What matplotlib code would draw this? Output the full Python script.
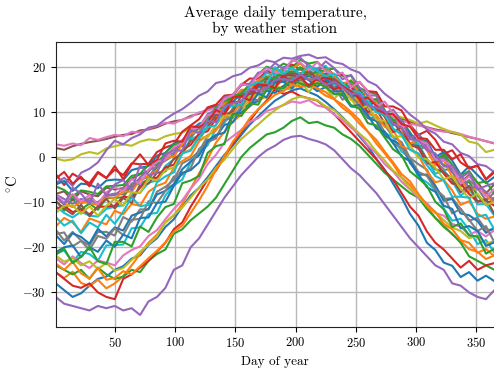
import matplotlib.pyplot as plt

plt.rcParams.update({
    'font.family': 'serif',
    'font.serif': ['cmr10'],
    'mathtext.fontset': 'cm',
    'axes.formatter.use_mathtext': True,
    'axes.unicode_minus': True,
})

days = [1, 8, 15, 22, 29, 36, 43, 50, 57, 64, 71, 78, 85, 92, 99, 106, 113,
        120, 127, 134, 141, 148, 155, 162, 169, 176, 183, 190, 197, 204, 211,
        218, 225, 232, 239, 246, 253, 260, 267, 274, 281, 288, 295, 302, 309,
        316, 323, 330, 337, 344, 351, 358, 365]

# Average daily temperature (deg C) per station, in plotting order
st00 = [-28.0, -29.5, -31.0, -30.2, -28.5, -27.0, -26.5, -25.0, -24.2, -22.5, -21.8, -19.5, -18.0, -15.5, -13.8, -11.0, -8.5, -6.8, -4.5, -2.0, 0.5, 2.6, 4.9, 7.2, 9.0, 10.8, 12.5, 13.6, 14.8, 15.2, 14.4, 13.6, 12.2, 10.6, 8.8, 6.9, 4.6, 2.4, -0.4, -2.8, -5.9, -9.0, -12.6, -15.2, -19.0, -20.6, -23.4, -24.1, -26.6, -25.5, -27.4, -26.3, -27.5]
st01 = [-25.6, -26.8, -25.4, -27.9, -28.6, -27.2, -29.1, -28.0, -26.4, -24.0, -21.5, -19.0, -17.2, -14.5, -13.0, -10.4, -7.0, -3.6, -0.5, 3.2, 5.6, 7.8, 9.4, 11.2, 12.6, 13.4, 15.0, 15.6, 16.4, 16.2, 15.8, 14.9, 13.6, 12.8, 10.9, 9.5, 7.4, 5.6, 3.0, 0.8, -1.6, -4.5, -6.2, -9.0, -10.8, -13.5, -15.0, -17.2, -18.6, -20.4, -21.0, -22.6, -21.8]
st02 = [-24.0, -25.0, -26.0, -25.0, -27.0, -24.5, -26.0, -27.0, -26.5, -25.0, -25.5, -23.0, -21.5, -20.5, -17.0, -16.0, -14.0, -12.5, -11.0, -9.0, -6.0, -3.0, 0.0, 2.0, 3.5, 5.0, 5.5, 6.5, 8.0, 8.8, 7.5, 7.8, 7.0, 6.5, 5.0, 4.0, 2.5, 0.5, -1.5, -3.5, -5.0, -6.5, -8.0, -9.0, -11.5, -13.5, -15.5, -17.0, -19.0, -22.0, -23.0, -24.0, -25.0]
st03 = [-25.5, -27.0, -28.5, -29.0, -28.0, -30.0, -31.0, -31.5, -27.0, -26.0, -24.5, -23.0, -21.0, -19.0, -16.0, -14.5, -11.0, -8.0, -5.0, -3.0, 0.0, 3.0, 5.5, 8.0, 10.5, 12.5, 15.0, 14.0, 14.5, 13.5, 13.0, 12.5, 11.0, 9.5, 7.5, 5.5, 3.5, 1.5, -0.5, -3.0, -5.0, -8.0, -11.0, -13.0, -16.5, -19.0, -20.5, -22.5, -24.5, -23.0, -25.0, -24.0, -23.5]
st04 = [-31.0, -32.5, -33.0, -33.5, -34.0, -33.0, -33.5, -33.0, -34.0, -33.5, -35.0, -32.0, -31.0, -29.0, -25.0, -24.0, -20.0, -18.0, -15.0, -12.0, -9.0, -6.5, -4.0, -2.0, 0.0, 1.5, 2.5, 3.8, 4.5, 4.7, 4.0, 3.5, 2.8, 1.5, -0.5, -2.5, -4.0, -6.0, -8.0, -10.5, -13.0, -15.5, -18.0, -20.0, -22.0, -24.0, -25.0, -28.0, -28.5, -30.0, -31.0, -31.5, -29.5]
st05 = [2.0, 1.6, 2.4, 2.9, 3.3, 3.6, 4.0, 4.5, 4.9, 5.1, 5.9, 6.1, 6.6, 7.4, 7.9, 8.2, 9.1, 9.6, 10.6, 11.3, 12.0, 13.1, 13.6, 14.6, 15.4, 16.2, 17.0, 17.6, 18.2, 18.6, 18.9, 18.5, 17.8, 16.6, 15.4, 14.1, 12.9, 11.9, 10.6, 9.8, 9.0, 8.5, 7.8, 7.1, 6.6, 6.1, 5.8, 5.3, 4.9, 4.4, 4.0, 3.5, 3.0]
st06 = [2.8, 2.5, 3.0, 2.6, 4.2, 3.8, 4.4, 4.9, 4.6, 5.6, 5.4, 6.3, 6.9, 7.6, 7.4, 8.3, 8.8, 9.9, 10.3, 10.9, 11.8, 12.6, 13.8, 14.6, 15.6, 16.5, 17.4, 18.2, 18.8, 19.4, 19.6, 19.0, 18.3, 17.2, 15.5, 13.9, 12.6, 11.3, 10.0, 9.3, 8.8, 8.1, 7.4, 7.0, 6.5, 5.9, 5.6, 5.6, 5.1, 4.5, 4.0, 3.5, 3.1]
st07 = [-16.1, -18.5, -16.6, -18.5, -19.6, -16.6, -16.6, -17.4, -13.3, -14.3, -11.6, -11.6, -7.7, -6.6, -5.1, -1.4, -0.4, 1.3, 4.6, 6.3, 7.6, 10.9, 11.4, 13.7, 13.8, 16.4, 16.8, 17.1, 18.5, 17.4, 18.1, 18.4, 16.4, 16.2, 14.0, 14.2, 12.1, 11.0, 7.9, 7.1, 4.4, 3.3, -0.2, -1.6, -2.8, -6.5, -9.3, -9.1, -11.5, -14.1, -13.5, -16.1, -16.2]
st08 = [-0.3, -0.8, -0.5, 0.6, 1.1, 0.7, 1.9, 2.4, 2.8, 2.5, 3.4, 3.9, 3.7, 4.6, 5.1, 5.4, 6.4, 7.1, 8.2, 9.0, 10.4, 11.5, 12.6, 13.4, 14.5, 15.5, 16.4, 17.2, 17.8, 18.3, 18.4, 18.0, 17.2, 16.3, 15.1, 13.6, 12.6, 11.5, 10.8, 10.1, 9.2, 8.8, 8.2, 7.4, 7.9, 7.0, 6.2, 5.5, 5.0, 3.4, 3.0, 1.1, 1.6]
st09 = [-21.4, -20.7, -23.3, -21.0, -21.5, -23.0, -19.6, -19.5, -19.4, -15.8, -15.6, -12.6, -12.4, -8.5, -6.3, -5.0, -1.1, 1.0, 2.6, 6.2, 7.8, 9.5, 12.4, 13.5, 15.6, 15.8, 18.0, 19.0, 18.5, 19.5, 18.1, 18.6, 18.4, 16.1, 15.9, 13.8, 13.1, 9.9, 8.6, 5.3, 4.4, 1.2, -0.2, -4.5, -5.6, -7.3, -11.4, -14.1, -13.7, -16.1, -19.3, -18.4, -21.2]
st10 = [-17.3, -19.3, -16.9, -17.7, -19.2, -15.9, -17.6, -15.6, -16.3, -13.0, -12.3, -11.5, -8.3, -7.5, -6.0, -2.7, -1.0, 0.4, 3.7, 4.5, 7.1, 7.7, 10.7, 11.7, 12.4, 14.7, 14.2, 15.8, 16.7, 15.5, 16.0, 14.6, 15.5, 14.0, 13.7, 11.2, 11.0, 8.6, 8.0, 4.7, 3.6, 2.6, -1.3, -3.9, -3.9, -6.4, -9.7, -9.3, -12.5, -12.9, -14.2, -16.8, -15.6]
st11 = [-15.4, -13.5, -14.5, -16.6, -13.6, -14.3, -14.9, -11.9, -12.7, -10.4, -10.8, -7.7, -6.4, -5.7, -2.4, -0.9, 0.2, 3.5, 4.8, 5.9, 8.8, 9.8, 11.9, 12.1, 14.4, 15.7, 15.6, 17.0, 16.1, 17.2, 17.4, 15.9, 16.4, 14.9, 15.0, 12.7, 12.2, 9.5, 9.3, 6.7, 6.1, 2.3, 1.7, 0.4, -3.2, -5.6, -5.1, -7.4, -10.6, -9.8, -12.6, -13.7, -13.2]
st12 = [-9.6, -11.9, -9.2, -11.6, -10.3, -11.7, -9.1, -9.1, -8.9, -6.3, -5.9, -5.0, -2.2, -0.7, 0.5, 3.7, 4.5, 7.2, 7.9, 11.0, 12.3, 13.6, 16.1, 16.2, 18.3, 20.0, 19.4, 20.7, 19.9, 21.5, 20.7, 21.1, 19.3, 19.6, 18.0, 18.0, 15.3, 14.5, 13.9, 10.3, 8.0, 8.0, 5.5, 2.4, 2.6, -0.7, -1.7, -3.2, -6.4, -5.5, -8.5, -10.7, -9.0]
st13 = [-3.8, -6.2, -3.7, -4.8, -5.8, -3.3, -4.6, -2.8, -4.0, -1.4, -1.6, -1.5, 1.1, 2.1, 2.8, 5.6, 7.0, 8.4, 11.0, 11.6, 13.6, 13.8, 16.0, 17.4, 17.3, 19.0, 18.4, 19.8, 20.5, 19.4, 20.3, 19.3, 20.0, 18.1, 18.2, 16.2, 16.6, 14.6, 14.4, 11.2, 11.2, 10.3, 7.1, 4.9, 5.8, 3.8, 0.7, 1.5, -1.2, -2.4, -1.9, -4.9, -3.1]
st14 = [-5.8, -4.6, -6.4, -3.5, -2.6, -1.2, 1.5, 3.6, 2.8, 4.2, 5.0, 6.5, 6.9, 8.4, 9.6, 10.6, 12.0, 13.6, 14.5, 16.4, 16.8, 17.9, 18.4, 19.8, 20.3, 21.4, 21.0, 22.0, 21.8, 22.4, 22.7, 21.9, 22.1, 21.0, 20.6, 19.4, 18.7, 16.8, 15.9, 14.0, 12.6, 11.2, 9.4, 8.0, 6.1, 5.2, 3.4, 2.8, 0.9, 0.2, -1.6, -2.0, -3.4]
st15 = [-8.2, -7.6, -9.6, -7.6, -8.3, -8.7, -6.8, -7.2, -6.9, -4.8, -3.8, -3.3, -0.7, -0.3, 2.0, 2.4, 5.5, 6.6, 7.7, 10.3, 10.5, 12.9, 14.7, 14.5, 16.1, 16.0, 18.1, 18.0, 19.0, 17.8, 18.8, 17.8, 18.5, 16.4, 16.4, 16.5, 13.6, 11.6, 12.3, 10.2, 7.5, 8.0, 4.9, 4.1, 2.6, -0.5, 0.1, -2.9, -5.6, -4.0, -5.6, -8.1, -6.0]
st16 = [-22.4, -23.8, -22.0, -23.5, -24.6, -22.9, -23.4, -24.0, -21.8, -20.6, -19.8, -17.5, -16.2, -13.8, -11.5, -9.6, -7.0, -4.8, -1.6, 0.5, 3.2, 4.6, 6.0, 7.8, 8.6, 10.2, 10.8, 11.5, 12.3, 12.0, 12.6, 11.4, 11.0, 9.4, 8.2, 6.5, 5.0, 2.6, 0.8, -1.6, -3.2, -5.5, -7.2, -9.0, -10.2, -12.4, -13.0, -14.8, -15.5, -17.2, -16.4, -17.6, -16.2]
st17 = [-8.8, -10.5, -8.6, -10.4, -9.1, -10.7, -8.5, -8.1, -8.3, -5.9, -5.0, -4.5, -1.8, -0.8, 0.4, 3.2, 4.2, 6.6, 7.1, 9.8, 11.6, 12.3, 14.4, 14.5, 16.4, 17.9, 17.4, 19.0, 18.6, 19.7, 18.4, 18.9, 17.3, 18.0, 16.3, 16.4, 13.5, 13.3, 12.5, 9.2, 7.0, 7.6, 5.2, 1.8, 2.2, -0.9, -2.8, -2.8, -6.4, -5.1, -6.9, -9.7, -7.8]
st18 = [-21.8, -23.2, -22.4, -24.0, -23.1, -24.8, -23.5, -25.2, -24.6, -22.8, -21.0, -19.4, -17.6, -14.5, -12.8, -11.2, -9.0, -6.8, -5.0, -2.4, -0.6, 1.8, 4.0, 5.6, 7.2, 8.9, 10.4, 11.6, 12.8, 13.4, 13.0, 12.6, 11.2, 10.4, 8.6, 7.0, 5.2, 3.6, 1.2, -0.8, -3.0, -4.6, -7.0, -8.6, -10.8, -12.2, -14.0, -15.6, -16.4, -18.0, -17.4, -19.2, -18.6]
st19 = [-10.9, -12.4, -13.4, -12.1, -13.0, -13.2, -11.5, -11.0, -10.7, -8.2, -7.9, -5.7, -5.2, -2.0, -0.5, 1.0, 4.0, 4.7, 7.6, 10.0, 10.4, 12.9, 13.3, 16.2, 16.8, 18.6, 18.1, 19.9, 19.5, 20.8, 19.2, 19.7, 20.2, 17.6, 16.0, 16.8, 14.9, 12.1, 12.5, 9.2, 8.3, 6.4, 2.8, 3.0, -0.6, -3.7, -3.0, -5.3, -8.6, -6.9, -10.5, -10.4, -13.0]
st20 = [-6.1, -5.3, -7.5, -5.9, -6.1, -6.9, -5.2, -5.0, -5.1, -2.9, -2.4, -2.0, 0.3, 0.9, 3.0, 3.2, 5.8, 7.4, 8.0, 10.1, 10.2, 12.4, 13.9, 13.8, 15.6, 15.8, 17.4, 16.6, 17.7, 16.7, 18.0, 16.9, 17.7, 15.3, 15.9, 15.6, 13.0, 11.2, 12.4, 10.3, 7.4, 8.1, 5.1, 3.5, 3.6, 0.0, 1.1, -0.8, -3.9, -2.1, -4.0, -5.8, -4.4]
st21 = [-8.6, -10.3, -11.1, -10.0, -10.2, -10.6, -8.8, -9.2, -7.6, -7.7, -5.0, -4.1, -3.0, -0.3, 0.1, 2.8, 5.2, 5.6, 8.1, 8.7, 11.8, 12.8, 14.9, 14.9, 17.1, 17.4, 19.2, 18.4, 19.6, 20.7, 18.8, 17.9, 19.4, 18.1, 16.0, 17.0, 14.3, 13.7, 12.3, 9.1, 9.6, 6.1, 3.0, 3.9, 1.5, -1.9, -0.7, -4.4, -4.8, -7.7, -6.8, -8.5, -10.1]
st22 = [-6.5, -7.3, -8.7, -7.4, -7.7, -8.2, -6.5, -6.4, -6.2, -4.2, -3.7, -1.8, -1.7, 0.9, 2.7, 3.4, 5.9, 6.3, 8.8, 10.7, 11.0, 13.5, 14.0, 16.2, 15.9, 17.7, 17.3, 19.2, 18.7, 19.9, 18.0, 19.0, 19.2, 16.8, 15.4, 16.9, 15.1, 12.1, 12.9, 9.9, 8.2, 8.1, 4.3, 5.1, 2.8, -0.6, 0.6, -1.7, -4.2, -3.1, -5.8, -5.4, -8.2]
st23 = [-11.5, -10.8, -12.2, -11.6, -12.7, -11.0, -11.0, -10.8, -8.8, -9.0, -6.8, -4.8, -4.6, -2.3, -1.7, 1.5, 2.7, 5.2, 5.7, 8.5, 9.5, 12.2, 12.2, 14.3, 16.4, 15.6, 15.7, 18.3, 18.1, 17.0, 19.0, 17.2, 17.6, 17.0, 14.5, 15.6, 12.7, 9.9, 11.1, 8.9, 5.5, 6.7, 2.7, 2.0, -1.5, -1.1, -3.7, -5.9, -5.9, -8.2, -9.9, -9.6, -10.8]
st24 = [-8.3, -9.3, -10.4, -9.3, -9.7, -10.0, -8.5, -8.5, -6.9, -7.0, -4.5, -2.9, -2.2, 0.3, 0.9, 3.7, 5.9, 6.6, 9.5, 10.5, 13.2, 13.7, 15.9, 16.2, 18.7, 18.9, 20.8, 19.6, 21.2, 22.0, 20.1, 19.2, 21.2, 19.7, 17.2, 18.2, 15.4, 13.7, 13.6, 9.7, 10.5, 8.0, 4.2, 5.1, 2.3, -0.5, -0.2, -3.4, -3.8, -6.9, -6.5, -7.7, -9.7]
st25 = [-9.8, -11.4, -12.7, -10.6, -13.1, -11.0, -9.3, -11.4, -9.1, -10.2, -6.1, -5.9, -3.5, -3.2, -0.4, 0.7, 3.6, 4.0, 6.6, 9.3, 9.2, 10.2, 13.6, 14.3, 14.2, 17.3, 16.5, 18.0, 18.5, 17.0, 19.1, 17.1, 15.3, 17.3, 15.8, 13.0, 14.8, 11.1, 10.7, 7.4, 7.8, 5.2, 2.7, 2.4, -0.5, -2.7, -3.3, -4.9, -7.8, -6.4, -9.8, -9.3, -12.6]
st26 = [-8.3, -10.1, -8.2, -9.9, -8.4, -10.5, -7.8, -6.7, -7.6, -4.9, -6.0, -2.8, -1.0, -0.6, 2.1, 3.2, 6.0, 6.6, 9.2, 9.8, 12.9, 13.7, 16.2, 15.7, 18.1, 19.7, 18.7, 18.7, 21.5, 20.9, 19.2, 21.0, 19.0, 18.1, 18.7, 15.4, 16.7, 14.5, 11.1, 12.3, 9.6, 6.7, 7.1, 3.6, 3.0, -0.6, -0.7, -2.2, -5.9, -4.3, -6.3, -8.8, -7.1]
st27 = [-17.1, -16.7, -19.8, -18.6, -20.6, -17.5, -18.1, -15.8, -17.3, -13.9, -13.7, -9.8, -10.2, -7.5, -4.3, -3.9, -2.4, 1.8, 3.3, 4.1, 8.2, 8.7, 11.2, 12.9, 12.6, 16.0, 15.2, 14.7, 17.7, 17.3, 15.4, 18.1, 15.3, 15.5, 12.7, 13.6, 11.3, 8.8, 8.5, 5.5, 3.0, 2.0, -0.4, -3.3, -4.2, -7.2, -8.7, -12.5, -11.5, -13.9, -16.4, -15.3, -18.9]
st28 = [-12.4, -10.8, -10.7, -12.6, -10.9, -13.0, -10.8, -9.3, -10.8, -7.8, -8.0, -4.7, -5.2, -2.9, -2.3, 0.8, 1.7, 4.4, 4.3, 7.2, 9.3, 9.1, 9.8, 13.5, 13.7, 13.1, 15.9, 15.0, 15.1, 16.7, 14.4, 16.6, 15.5, 12.9, 14.8, 12.8, 10.6, 11.4, 8.3, 8.0, 4.5, 4.6, 2.6, -0.2, -0.5, -2.4, -4.9, -4.3, -6.9, -9.2, -8.1, -10.6, -10.0]
st29 = [-13.3, -15.2, -14.1, -16.9, -14.5, -15.6, -12.8, -14.8, -12.1, -8.9, -10.9, -10.6, -5.6, -4.3, -3.4, 0.8, 1.4, 4.4, 6.6, 7.0, 11.1, 11.3, 11.6, 15.8, 16.5, 16.0, 19.9, 18.4, 19.8, 18.3, 20.2, 19.1, 17.9, 18.5, 16.3, 14.6, 14.4, 12.4, 9.9, 9.3, 6.3, 4.9, 1.6, 0.8, -1.8, -4.2, -5.2, -8.8, -8.8, -9.0, -13.2, -12.8, -16.1]
st30 = [-21.1, -20.0, -19.6, -22.2, -20.0, -21.0, -18.5, -19.9, -17.2, -18.0, -13.5, -13.4, -10.2, -9.9, -6.4, -3.5, -2.9, -1.2, 3.5, 4.9, 5.4, 9.5, 9.8, 11.3, 14.1, 13.2, 16.7, 16.7, 15.2, 18.2, 17.0, 15.5, 17.2, 14.5, 14.6, 11.3, 11.5, 9.3, 6.3, 5.6, 3.1, 0.1, -0.9, -3.8, -6.7, -7.7, -10.8, -11.5, -15.8, -15.3, -16.4, -19.7, -18.9]
st31 = [-23.6, -25.0, -23.2, -25.8, -26.9, -24.6, -27.2, -26.8, -25.3, -26.0, -24.2, -22.4, -20.8, -18.9, -16.5, -15.2, -12.4, -9.6, -6.4, -2.8, 0.2, 3.4, 5.8, 8.6, 10.6, 12.2, 13.8, 14.6, 16.0, 15.6, 16.2, 15.2, 14.4, 12.8, 11.6, 10.0, 8.2, 5.6, 3.8, 1.2, -1.2, -3.8, -5.4, -8.2, -10.6, -12.2, -14.8, -16.0, -18.4, -19.0, -21.2, -20.4, -22.0]
st32 = [-21.7, -20.3, -23.5, -22.1, -19.9, -23.1, -23.7, -18.8, -18.8, -19.8, -15.4, -16.6, -13.4, -11.1, -10.4, -5.8, -5.2, -4.2, 0.9, 2.4, 2.9, 9.5, 9.1, 11.9, 11.6, 15.1, 15.2, 15.3, 17.2, 16.3, 15.6, 16.4, 15.5, 13.9, 14.0, 11.5, 10.7, 7.5, 7.0, 4.3, 1.7, 0.4, -3.2, -4.7, -6.4, -9.9, -11.6, -15.5, -14.7, -17.4, -17.6, -21.4, -20.3]
st33 = [-4.8, -3.3, -5.9, -4.4, -6.5, -3.5, -4.7, -2.0, -4.9, -1.6, 0.6, -1.8, -0.6, 3.0, 3.6, 3.4, 6.8, 6.6, 7.7, 10.4, 9.5, 13.2, 13.5, 12.5, 16.1, 15.9, 15.3, 18.0, 16.5, 17.8, 15.8, 17.3, 16.6, 15.0, 15.7, 14.6, 12.9, 13.1, 11.4, 9.6, 9.5, 7.3, 6.7, 4.2, 4.0, 1.6, 1.6, -0.5, 0.6, -2.6, -1.9, -5.0, -3.4]
st34 = [-8.8, -10.5, -6.8, -8.1, -10.4, -5.9, -8.5, -6.1, -5.1, -7.4, -1.8, -4.0, -3.5, 0.6, 1.5, 1.4, 6.0, 5.3, 8.0, 7.7, 11.3, 11.9, 12.4, 15.0, 14.8, 15.2, 17.1, 17.3, 16.9, 18.3, 17.1, 17.5, 15.9, 16.7, 15.4, 14.0, 14.0, 11.4, 11.0, 10.2, 7.4, 6.5, 3.9, 3.7, 1.5, 0.8, -2.1, -1.9, -4.6, -3.4, -7.2, -6.4, -5.8]

stations = [st00, st01, st02, st03, st04, st05, st06, st07, st08, st09,
            st10, st11, st12, st13, st14, st15, st16, st17, st18, st19,
            st20, st21, st22, st23, st24, st25, st26, st27, st28, st29,
            st30, st31, st32, st33, st34]

fig = plt.figure(figsize=(4.94, 3.69), dpi=100)
ax = fig.add_axes([0.1128, 0.1146, 0.888, 0.7724])

for temps in stations:
    ax.plot(days, temps, lw=1.5)

ax.set_xlim(1, 365)
ax.set_ylim(-37.6, 25.55)
ax.set_xticks([50, 100, 150, 200, 250, 300, 350])
ax.set_yticks([-30, -20, -10, 0, 10, 20])
ax.grid(True, color='#b8b8b8', lw=1.0)
ax.set_axisbelow(True)
ax.spines['right'].set_visible(False)
for side in ['left', 'bottom', 'top']:
    ax.spines[side].set_color('#222222')
ax.tick_params(labelsize=9, length=3.5, width=0.8)

ax.set_title('Average daily temperature,\nby weather station', fontsize=11, pad=6)
ax.set_xlabel('Day of year', fontsize=9.5)
ax.set_ylabel(r'$^{\circ}\mathrm{C}$', fontsize=10.5, labelpad=2)

fig.savefig('out.png', dpi=100)
